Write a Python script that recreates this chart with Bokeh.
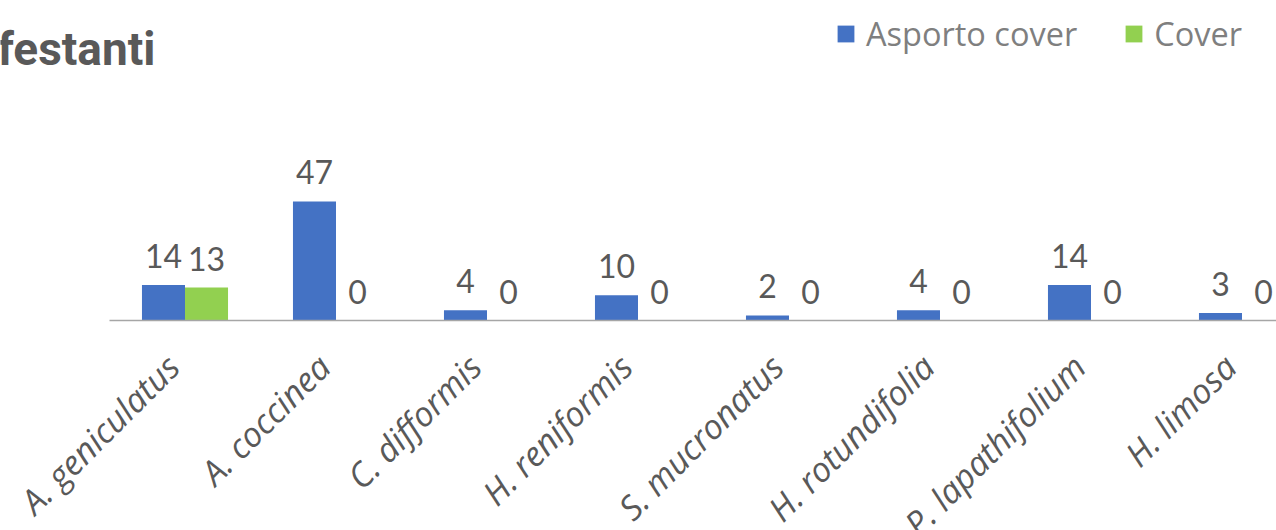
from math import pi

from bokeh.core.properties import value
from bokeh.embed import file_html
from bokeh.models import (ColumnDataSource, FixedTicker, Label, LabelSet,
                          Legend, LegendItem, LinearAxis, Range1d)
from bokeh.plotting import figure
from bokeh.resources import INLINE
from bokeh.transform import dodge

# --- data -------------------------------------------------------------
species = ["A. geniculatus", "A. coccinea", "C. difformis", "H. reniformis",
           "S. mucronatus", "H. rotundifolia", "P. lapathifolium", "H. limosa"]
asporto_cover = [14, 47, 4, 10, 2, 4, 14, 3]
cover = [13, 0, 0, 0, 0, 0, 0, 0]
series_names = ["Asporto cover", "Cover"]
title_text = "Infestanti"

# --- style / layout ---------------------------------------------------
BLUE = "#4472C4"
GREEN = "#92D050"
TEXT_DARK = "#595959"
TEXT_LEGEND = "#7F7F7F"
W, H = 1276, 530
PX_PER_CAT = 151.0      # width of one category slot
PX_PER_UNIT = 2.532     # vertical pixels per count
BASE_Y = 320            # baseline position from top
FIRST_CENTER = 184.5    # centre of the first category slot
BAR_W = 0.285           # bar width in category units
LABEL_NUDGE = -0.08     # slanted labels sit slightly left of the slot centre

xs = list(range(len(species)))
src = ColumnDataSource(dict(
    x=xs,
    asporto=asporto_cover,
    cover=cover,
    asporto_lbl=[str(v) for v in asporto_cover],
    cover_lbl=[str(v) for v in cover],
))

x_start = -FIRST_CENTER / PX_PER_CAT
x_range = Range1d(x_start, x_start + W / PX_PER_CAT)
y_range = Range1d(-(H - BASE_Y) / PX_PER_UNIT, BASE_Y / PX_PER_UNIT)

p = figure(width=W, height=H, x_range=x_range, y_range=y_range,
           output_backend="svg", toolbar_location=None,
           x_axis_type=None, y_axis_type=None, min_border=0,
           outline_line_color=None)
p.grid.visible = False

left = dodge("x", -BAR_W / 2, range=x_range)
right = dodge("x", BAR_W / 2, range=x_range)

r_asp = p.vbar(x=left, top="asporto", bottom=0, width=BAR_W, source=src,
               fill_color=BLUE, line_color=None)
r_cov = p.vbar(x=right, top="cover", bottom=0, width=BAR_W, source=src,
               fill_color=GREEN, line_color=None)

# value labels above each bar
for xpos, col in ((left, "asporto"), (right, "cover")):
    p.add_layout(LabelSet(x=xpos, y=col, text=col + "_lbl", source=src,
                          y_offset=17, text_align="center",
                          text_baseline="alphabetic",
                          text_font=value("Lato"), text_font_size="32px",
                          text_color=TEXT_DARK))

# category axis sitting on the zero line
tick_pos = [i + LABEL_NUDGE for i in xs]
xaxis = LinearAxis(fixed_location=0,
                   ticker=FixedTicker(ticks=tick_pos),
                   major_label_overrides={t: s for t, s in zip(tick_pos, species)},
                   bounds=(-0.5, x_range.end))
xaxis.axis_line_color = "#A6A6A6"
xaxis.axis_line_width = 1.5
xaxis.major_tick_line_color = None
xaxis.minor_tick_line_color = None
xaxis.major_label_orientation = pi / 4
xaxis.major_label_standoff = 34
xaxis.major_label_text_font = "Open Sans"
xaxis.major_label_text_font_style = "italic"
xaxis.major_label_text_font_size = "34px"
xaxis.major_label_text_color = TEXT_DARK
p.add_layout(xaxis, "below")

# title
p.add_layout(Label(x=155, y=H - 48, x_units="screen", y_units="screen",
                   text=title_text, text_align="right",
                   text_baseline="alphabetic", text_font="Roboto",
                   text_font_style="bold", text_font_size="46px",
                   text_color=TEXT_DARK))

# legend
legend = Legend(items=[LegendItem(label=series_names[0], renderers=[r_asp]),
                       LegendItem(label=series_names[1], renderers=[r_cov])],
                orientation="horizontal", location=(835, H - 56),
                glyph_width=21, glyph_height=21, label_standoff=10,
                spacing=46, padding=0, margin=0,
                border_line_color=None, background_fill_alpha=0,
                label_text_font="Open Sans", label_text_font_size="32.5px",
                label_text_color=TEXT_LEGEND)
p.add_layout(legend)

open("out.html", "w").write(file_html(p, INLINE))
